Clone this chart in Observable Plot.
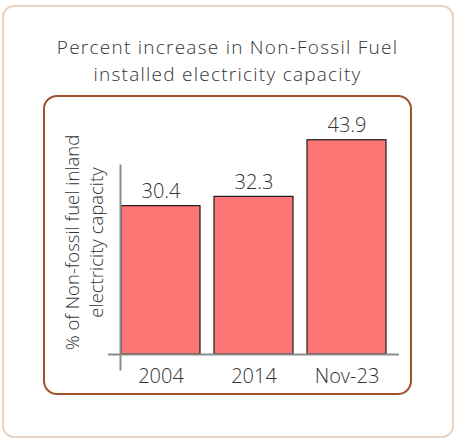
<!DOCTYPE html>
<html>
<head>
<meta charset="utf-8">
<script src="https://cdn.jsdelivr.net/npm/d3@7"></script>
<script src="https://cdn.jsdelivr.net/npm/@observablehq/plot@0.6"></script>
<style>
  html, body { margin: 0; padding: 0; background: #fff; }
  body { width: 455px; height: 439px; position: relative; overflow: hidden; font-family: "Open Sans", sans-serif; }
  #outer { position: absolute; left: 2px; top: 5px; width: 448px; height: 429px; border: 2px solid #ead3c1; border-radius: 12px; }
  .title { position: absolute; left: 0; width: 455px; text-align: center; font-size: 19px; line-height: 26px; letter-spacing: 1.25px; color: #333; font-weight: 300; white-space: nowrap; }
  #t1 { top: 34px; }
  #t2 { top: 60.5px; }
  #inner { position: absolute; left: 43px; top: 95px; width: 365px; height: 296px; border: 2px solid #a0522d; border-radius: 14px; }
  #chart { position: absolute; left: 0; top: 0; }
</style>
</head>
<body>
<div id="outer"></div>
<div class="title" id="t1">Percent increase in Non-Fossil Fuel</div>
<div class="title" id="t2">installed electricity capacity</div>
<div id="inner"></div>
<div id="chart"></div>
<script>
const categories = ["2004", "2014", "Nov-23"];
const values = [30.4, 32.3, 43.9];
const yLabel = "% of Non-fossil fuel inland\nelectricity capacity";

const data = categories.map((c, i) => ({category: c, value: values[i], label: values[i].toFixed(1)}));

const chart = Plot.plot({
  width: 455,
  height: 439,
  marginLeft: 120,
  marginRight: 69,
  marginTop: 110,
  marginBottom: 85,
  style: {fontFamily: "Open Sans, sans-serif", fontSize: "20px", fontWeight: 300, color: "#333", background: "transparent"},
  x: {domain: categories, paddingInner: 0.155, paddingOuter: 0, label: null},
  y: {domain: [0, 50], axis: null},
  marks: [
    Plot.barY(data, {x: "category", y: "value", fill: "#ff7676", stroke: "#1a1a1a", strokeWidth: 1.2}),
    Plot.ruleY([0], {stroke: "#8c8c8c", strokeWidth: 2, insetLeft: -12, insetRight: -13}),
    Plot.frame({anchor: "left", stroke: "#8c8c8c", strokeWidth: 2, insetTop: 55, insetBottom: -15}),
    Plot.text(data, {x: "category", y: "value", text: "label", dy: -8, lineAnchor: "bottom", fill: "#333", fontSize: 20, fontWeight: 300}),
    Plot.axisX({tickSize: 0, tickPadding: 14, fontSize: 20, fontWeight: 300, fill: "#333", label: null}),
    Plot.text([yLabel], {frameAnchor: "left", text: d => d, rotate: -90, dx: -37.5, dy: 10, lineHeight: 1.35, textAnchor: "middle", lineAnchor: "middle", fill: "#333", fontSize: 18.5, fontWeight: 300})
  ]
});
document.getElementById("chart").appendChild(chart);
</script>
</body>
</html>
